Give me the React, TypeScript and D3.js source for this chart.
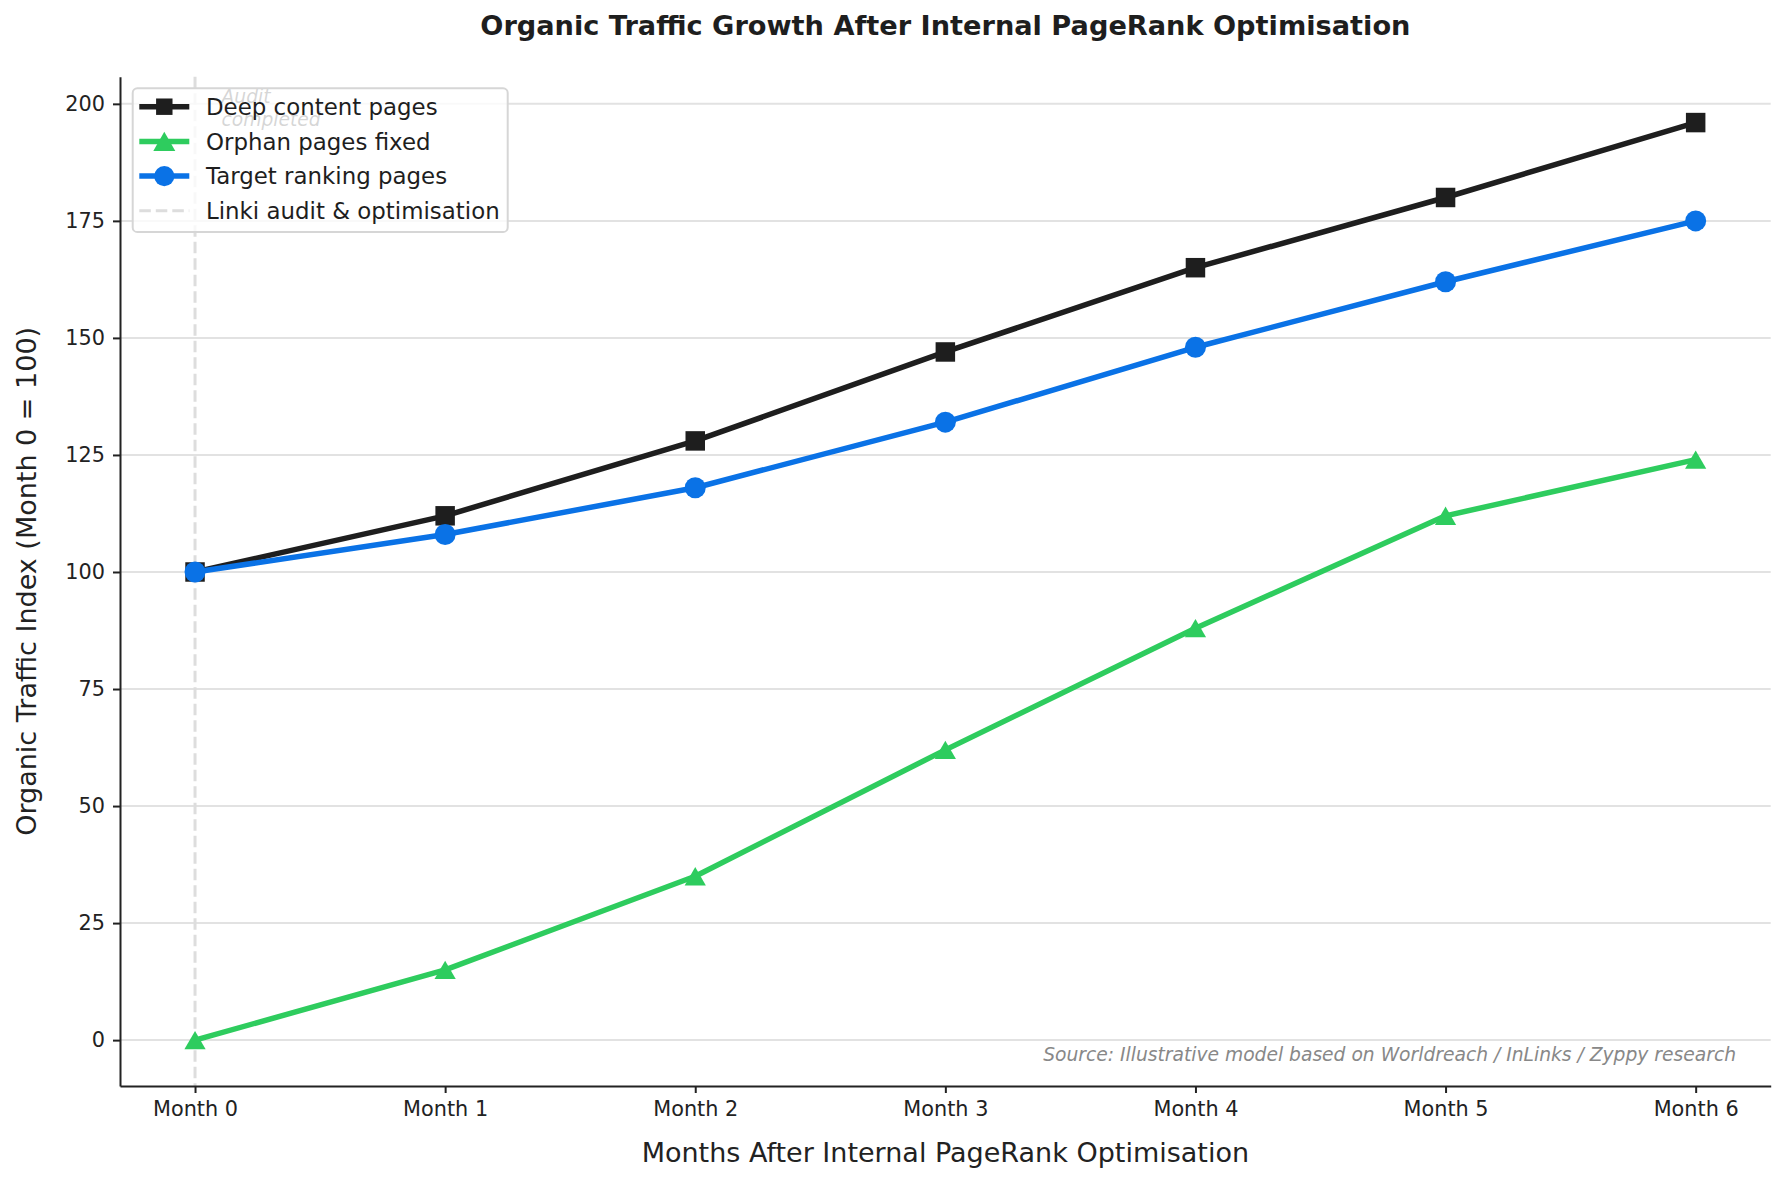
import { useEffect, useRef } from "react";
import * as d3 from "d3";

const months = ["Month 0", "Month 1", "Month 2", "Month 3", "Month 4", "Month 5", "Month 6"];
const deepContent = [100, 112, 128, 147, 165, 180, 196];
const orphanFixed = [0, 15, 35, 62, 88, 112, 124];
const targetRanking = [100, 108, 118, 132, 148, 162, 175];
const yTicks = [0, 25, 50, 75, 100, 125, 150, 175, 200];

interface Series {
    name: string;
    color: string;
    marker: "square" | "triangle" | "circle";
    values: number[];
}

const series: Series[] = [
    { name: "Deep content pages", color: "#1e1e1e", marker: "square", values: deepContent },
    { name: "Orphan pages fixed", color: "#2ecc5e", marker: "triangle", values: orphanFixed },
    { name: "Target ranking pages", color: "#0a72e6", marker: "circle", values: targetRanking },
];

const FONT = "DejaVu Sans, sans-serif";

export default function App() {
    const svgRef = useRef<SVGSVGElement>(null);

    useEffect(() => {
        document.body.style.margin = "0";
        if (!svgRef.current) return;

        const width = 1784;
        const height = 1182;
        const margin = { top: 76.7, right: 13.3, bottom: 96, left: 120 };

        const svg = d3.select(svgRef.current);
        svg.selectAll("*").remove();
        svg.attr("width", width).attr("height", height);

        svg.append("rect").attr("width", width).attr("height", height).attr("fill", "#fff");

        const x = d3
            .scaleLinear()
            .domain([-0.3, months.length - 1 + 0.3])
            .range([margin.left, width - margin.right]);
        const y = d3
            .scaleLinear()
            .domain([-9.8, 205.8])
            .range([height - margin.bottom, margin.top]);

        // horizontal grid
        svg.append("g")
            .selectAll("line")
            .data(yTicks)
            .enter()
            .append("line")
            .attr("x1", margin.left)
            .attr("x2", width - margin.right)
            .attr("y1", (d) => y(d))
            .attr("y2", (d) => y(d))
            .attr("stroke", "#e2e2e2")
            .attr("stroke-width", 2);

        // audit marker line
        svg.append("line")
            .attr("x1", x(0))
            .attr("x2", x(0))
            .attr("y1", margin.top)
            .attr("y2", height - margin.bottom)
            .attr("stroke", "#dddddd")
            .attr("stroke-width", 3)
            .attr("stroke-dasharray", "11.5,5");

        const markerPath = (m: Series["marker"], big: boolean) => {
            if (m === "square") return d3.symbol(d3.symbolSquare, big ? 380 : 270)()!;
            if (m === "circle") return d3.symbol(d3.symbolCircle, big ? 346 : 320)()!;
            return d3.symbol(d3.symbolTriangle, big ? 195 : 210)()!;
        };
        const markerOffset = (m: Series["marker"], big: boolean) => {
            if (m !== "triangle") return 0;
            const s = big ? 195 : 210;
            return Math.sqrt(s / (Math.sqrt(3) * 3)) / 2;
        };

        const line = d3
            .line<number>()
            .x((_, i) => x(i))
            .y((d) => y(d));

        series.forEach((s) => {
            const g = svg.append("g");
            g.append("path")
                .datum(s.values)
                .attr("d", line)
                .attr("fill", "none")
                .attr("stroke", s.color)
                .attr("stroke-width", 5.5)
                .attr("stroke-linejoin", "round")
                .attr("stroke-linecap", "round");
            g.selectAll(".pt")
                .data(s.values)
                .enter()
                .append("path")
                .attr("class", "pt")
                .attr("d", markerPath(s.marker, true))
                .attr(
                    "transform",
                    (d, i) => `translate(${x(i)},${y(d) + markerOffset(s.marker, true)})`,
                )
                .attr("fill", s.color);
        });

        // spines and axes
        const xAxis = svg
            .append("g")
            .attr("transform", `translate(0,${height - margin.bottom})`)
            .call(
                d3
                    .axisBottom(x)
                    .tickValues(d3.range(months.length))
                    .tickFormat((d) => months[d as number])
                    .tickSize(7)
                    .tickSizeOuter(0)
                    .tickPadding(8),
            );
        const yAxis = svg
            .append("g")
            .attr("transform", `translate(${margin.left},0)`)
            .call(
                d3
                    .axisLeft(y)
                    .tickValues(yTicks)
                    .tickSize(7)
                    .tickSizeOuter(0)
                    .tickPadding(8),
            );
        [xAxis, yAxis].forEach((a) => {
            a.select(".domain").attr("stroke", "#222").attr("stroke-width", 2);
            a.selectAll(".tick line").attr("stroke", "#222").attr("stroke-width", 2);
            a.selectAll(".tick text")
                .attr("fill", "#222")
                .attr("font-family", FONT)
                .attr("font-size", "20.8px");
        });

        // titles
        svg.append("text")
            .attr("x", (margin.left + width - margin.right) / 2)
            .attr("y", 35)
            .attr("text-anchor", "middle")
            .attr("font-family", FONT)
            .attr("font-size", "27.2px")
            .attr("font-weight", "bold")
            .attr("fill", "#1e1e1e")
            .text("Organic Traffic Growth After Internal PageRank Optimisation");

        svg.append("text")
            .attr("x", (margin.left + width - margin.right) / 2)
            .attr("y", 1161.7)
            .attr("text-anchor", "middle")
            .attr("font-family", FONT)
            .attr("font-size", "27px")
            .attr("fill", "#222")
            .text("Months After Internal PageRank Optimisation");

        svg.append("text")
            .attr("transform", `translate(36,${(margin.top + height - margin.bottom) / 2}) rotate(-90)`)
            .attr("text-anchor", "middle")
            .attr("font-family", FONT)
            .attr("font-size", "27px")
            .attr("fill", "#222")
            .text("Organic Traffic Index (Month 0 = 100)");

        // source note
        svg.append("text")
            .attr("x", 1736)
            .attr("y", 1061)
            .attr("text-anchor", "end")
            .attr("font-family", FONT)
            .attr("font-size", "18.7px")
            .attr("font-style", "italic")
            .attr("fill", "#888")
            .text("Source: Illustrative model based on Worldreach / InLinks / Zyppy research");

        // annotation (sits behind the legend box)
        const note = svg
            .append("text")
            .attr("x", 221.5)
            .attr("font-family", FONT)
            .attr("font-size", "18.7px")
            .attr("font-style", "italic")
            .attr("fill", "#333");
        note.append("tspan").attr("x", 221.5).attr("y", 103.3).text("Audit");
        note.append("tspan").attr("x", 221.5).attr("y", 125.7).text("completed");

        // legend
        const legend = svg.append("g").attr("transform", "translate(132.7,88.3)");
        legend
            .append("rect")
            .attr("width", 375)
            .attr("height", 143.7)
            .attr("rx", 4.6)
            .attr("fill", "rgba(255,255,255,0.8)")
            .attr("stroke", "#d6d6d6")
            .attr("stroke-width", 2);

        const entries = [
            ...series.map((s) => ({ name: s.name, color: s.color, marker: s.marker as Series["marker"] | null })),
            { name: "Linki audit & optimisation", color: "#dddddd", marker: null },
        ];
        entries.forEach((e, i) => {
            const row = legend.append("g").attr("transform", `translate(0,${18.4 + i * 34.7})`);
            row.append("line")
                .attr("x1", 6.6)
                .attr("x2", 56.6)
                .attr("stroke", e.color)
                .attr("stroke-width", e.marker ? 5.5 : 3)
                .attr("stroke-dasharray", e.marker ? null : "11.5,5");
            if (e.marker) {
                row.append("path")
                    .attr("d", markerPath(e.marker, false))
                    .attr("transform", `translate(31.6,${markerOffset(e.marker, false)})`)
                    .attr("fill", e.color);
            }
            row.append("text")
                .attr("x", 73.3)
                .attr("y", 0)
                .attr("dy", "0.36em")
                .attr("font-family", FONT)
                .attr("font-size", "22.9px")
                .attr("fill", "#1e1e1e")
                .text(e.name);
        });
    }, []);

    return <svg ref={svgRef} style={{ display: "block" }}></svg>;
}
